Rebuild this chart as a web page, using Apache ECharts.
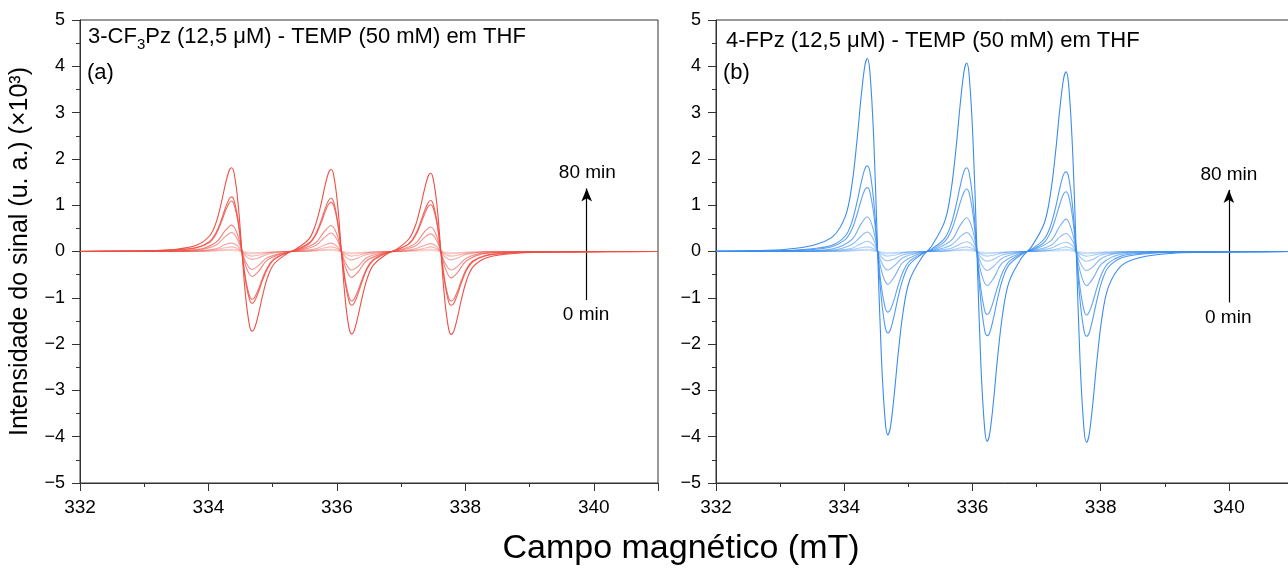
<!DOCTYPE html>
<html>
<head>
<meta charset="utf-8">
<script src="https://cdn.jsdelivr.net/npm/echarts@6/dist/echarts.min.js"></script>
<style>html,body{margin:0;padding:0;background:#fff;overflow:hidden;width:1288px;height:571px}#c{width:1296px;height:571px}</style>
</head>
<body>
<div id="c"></div>
<script>
// ---------- DATA ----------
// magnetic field grids (mT)
const fieldFull = [332.0, 332.6, 333.1, 333.5, 333.82,
  334.02, 334.12, 334.20, 334.26, 334.32, 334.36, 334.40, 334.46, 334.52, 334.58, 334.64, 334.68, 334.72, 334.78, 334.84, 334.92, 335.02,
  335.22,
  335.37, 335.57, 335.67, 335.75, 335.81, 335.87, 335.91, 335.95, 336.01, 336.07, 336.13, 336.19, 336.23, 336.27, 336.33, 336.39, 336.47, 336.57, 336.77,
  336.92, 337.12, 337.22, 337.30, 337.36, 337.42, 337.46, 337.50, 337.56, 337.62, 337.68, 337.74, 337.78, 337.82, 337.88, 337.94, 338.02, 338.12, 338.32,
  338.62, 339.1, 339.6, 340.2, 341.0];
const fieldCoarse = [332.0, 333.3, 333.82, 334.12, 334.26, 334.36, 334.46, 334.58, 334.68, 334.78, 334.92, 335.22,
  335.37, 335.67, 335.81, 335.91, 336.01, 336.13, 336.23, 336.33, 336.47, 336.77,
  336.92, 337.22, 337.36, 337.46, 337.56, 337.68, 337.78, 337.88, 338.02, 338.32, 339.0, 341.0];

// Panel (a) 3-CF3Pz, signal intensity (x10^3)
const red80 = [0.005, 0.01, 0.02, 0.05, 0.14,
  0.34, 0.63, 1.05, 1.43, 1.74, 1.81, 1.69, 1.06, 0.02, -0.99, -1.60, -1.72, -1.65, -1.35, -0.97, -0.56, -0.27,
  -0.05,
  0.06, 0.28, 0.59, 1.00, 1.39, 1.70, 1.77, 1.65, 1.03, 0.00, -1.04, -1.66, -1.78, -1.71, -1.39, -1.01, -0.59, -0.29, -0.06,
  0.04, 0.27, 0.55, 0.95, 1.32, 1.62, 1.69, 1.57, 0.98, -0.02, -1.05, -1.67, -1.79, -1.72, -1.41, -1.03, -0.62, -0.33, -0.14,
  -0.06, -0.02, -0.01, -0.005, 0.00];
const red70 = [0.00, 0.01, 0.015, 0.04, 0.09,
  0.22, 0.41, 0.68, 0.93, 1.13, 1.18, 1.10, 0.69, 0.01, -0.65, -1.04, -1.12, -1.07, -0.87, -0.63, -0.37, -0.18,
  -0.03,
  0.04, 0.19, 0.38, 0.65, 0.90, 1.10, 1.15, 1.07, 0.67, 0.00, -0.68, -1.08, -1.16, -1.11, -0.91, -0.66, -0.38, -0.19, -0.04,
  0.03, 0.17, 0.36, 0.62, 0.86, 1.05, 1.10, 1.02, 0.63, -0.01, -0.68, -1.09, -1.16, -1.12, -0.92, -0.67, -0.40, -0.22, -0.09,
  -0.04, -0.01, -0.01, 0.00, 0.00];
const red60 = [0.00, 0.01, 0.01, 0.03, 0.08,
  0.20, 0.38, 0.63, 0.86, 1.04, 1.09, 1.01, 0.64, 0.01, -0.60, -0.96, -1.03, -0.99, -0.81, -0.58, -0.34, -0.16,
  -0.03,
  0.03, 0.17, 0.35, 0.60, 0.83, 1.02, 1.06, 0.99, 0.62, 0.00, -0.62, -0.99, -1.07, -1.02, -0.84, -0.61, -0.35, -0.17, -0.03,
  0.03, 0.16, 0.33, 0.57, 0.79, 0.97, 1.01, 0.94, 0.59, -0.01, -0.63, -1.00, -1.07, -1.03, -0.85, -0.62, -0.37, -0.20, -0.08,
  -0.03, -0.01, -0.01, 0.00, 0.00];
const red50 = [0.00, 0.01, 0.04, 0.20, 0.45, 0.57, 0.34, -0.31, -0.54, -0.43, -0.18, -0.01,
  0.02, 0.19, 0.44, 0.56, 0.33, -0.33, -0.56, -0.44, -0.19, -0.02,
  0.01, 0.17, 0.42, 0.53, 0.31, -0.33, -0.57, -0.45, -0.20, -0.04, -0.01, 0.00];
const red40 = [0.00, 0.01, 0.03, 0.14, 0.32, 0.41, 0.24, -0.22, -0.39, -0.30, -0.13, -0.01,
  0.01, 0.13, 0.31, 0.40, 0.23, -0.23, -0.40, -0.32, -0.13, -0.01,
  0.01, 0.12, 0.30, 0.38, 0.22, -0.24, -0.40, -0.32, -0.14, -0.03, -0.01, 0.00];
const red30 = [0.00, 0.00, 0.01, 0.06, 0.15, 0.18, 0.11, -0.10, -0.17, -0.14, -0.06, 0.00,
  0.01, 0.06, 0.14, 0.18, 0.10, -0.11, -0.18, -0.14, -0.06, -0.01,
  0.00, 0.06, 0.13, 0.17, 0.10, -0.11, -0.18, -0.14, -0.06, -0.01, 0.00, 0.00];
const red20 = [0.00, 0.00, 0.01, 0.04, 0.08, 0.10, 0.06, -0.06, -0.10, -0.08, -0.03, 0.00,
  0.00, 0.03, 0.08, 0.10, 0.06, -0.06, -0.10, -0.08, -0.03, 0.00,
  0.00, 0.03, 0.07, 0.10, 0.06, -0.06, -0.10, -0.08, -0.04, -0.01, 0.00, 0.00];
const red10 = [0, 0, 0, 0.02, 0.04, 0.05, 0.03, -0.03, -0.05, -0.04, -0.02, 0,
  0, 0.02, 0.04, 0.05, 0.03, -0.03, -0.05, -0.04, -0.02, 0,
  0, 0.02, 0.04, 0.05, 0.03, -0.03, -0.05, -0.04, -0.02, 0, 0, 0];
const red0 = [0, 0, 0, 0.01, 0.02, 0.02, 0.01, -0.01, -0.02, -0.02, -0.01, 0,
  0, 0.01, 0.02, 0.02, 0.01, -0.01, -0.02, -0.02, -0.01, 0,
  0, 0.01, 0.01, 0.02, 0.01, -0.01, -0.02, -0.02, -0.01, 0, 0, 0];

// Panel (b) 4-FPz
const blue80 = [0.01, 0.02, 0.05, 0.13, 0.32,
  0.77, 1.44, 2.41, 3.29, 4.00, 4.17, 3.89, 2.45, 0.04, -2.29, -3.68, -3.96, -3.80, -3.09, -2.23, -1.29, -0.62,
  -0.11,
  0.13, 0.66, 1.35, 2.31, 3.19, 3.90, 4.07, 3.79, 2.37, 0.00, -2.39, -3.82, -4.10, -3.93, -3.21, -2.32, -1.36, -0.66, -0.13,
  0.10, 0.61, 1.27, 2.19, 3.04, 3.72, 3.88, 3.61, 2.25, -0.04, -2.42, -3.84, -4.12, -3.96, -3.25, -2.38, -1.43, -0.77, -0.31,
  -0.13, -0.04, -0.02, -0.01, 0.00];
const blue70 = [0.01, 0.01, 0.02, 0.06, 0.14,
  0.34, 0.64, 1.07, 1.46, 1.78, 1.85, 1.73, 1.09, 0.02, -1.02, -1.64, -1.76, -1.69, -1.38, -0.99, -0.58, -0.28,
  -0.05,
  0.06, 0.29, 0.60, 1.03, 1.42, 1.74, 1.81, 1.69, 1.06, 0.00, -1.06, -1.70, -1.82, -1.75, -1.43, -1.03, -0.60, -0.29, -0.06,
  0.05, 0.27, 0.56, 0.97, 1.35, 1.66, 1.72, 1.61, 1.00, -0.02, -1.08, -1.71, -1.83, -1.76, -1.44, -1.06, -0.64, -0.34, -0.14,
  -0.06, -0.02, -0.01, -0.01, 0.00];
const blue60 = [0.00, 0.01, 0.02, 0.04, 0.11,
  0.26, 0.48, 0.80, 1.09, 1.33, 1.38, 1.29, 0.81, 0.01, -0.76, -1.22, -1.31, -1.26, -1.03, -0.74, -0.43, -0.21,
  -0.04,
  0.04, 0.22, 0.45, 0.77, 1.06, 1.29, 1.35, 1.26, 0.79, 0.00, -0.79, -1.27, -1.36, -1.30, -1.06, -0.77, -0.45, -0.22, -0.04,
  0.03, 0.20, 0.42, 0.73, 1.01, 1.24, 1.29, 1.20, 0.75, -0.01, -0.80, -1.27, -1.37, -1.31, -1.08, -0.79, -0.47, -0.25, -0.10,
  -0.04, -0.01, -0.01, 0.00, 0.00];
const blue50 = [0.00, 0.01, 0.06, 0.26, 0.59, 0.75, 0.44, -0.41, -0.71, -0.55, -0.23, -0.02,
  0.02, 0.24, 0.57, 0.73, 0.43, -0.43, -0.74, -0.58, -0.24, -0.02,
  0.02, 0.23, 0.54, 0.70, 0.40, -0.43, -0.74, -0.58, -0.26, -0.06, -0.01, 0.00];
const blue40 = [0.00, 0.01, 0.03, 0.15, 0.33, 0.42, 0.25, -0.23, -0.40, -0.31, -0.13, -0.01,
  0.01, 0.14, 0.32, 0.41, 0.24, -0.24, -0.41, -0.32, -0.14, -0.01,
  0.01, 0.13, 0.31, 0.39, 0.23, -0.24, -0.41, -0.33, -0.14, -0.03, -0.01, 0.00];
const blue30 = [0.00, 0.00, 0.02, 0.07, 0.17, 0.22, 0.13, -0.12, -0.20, -0.16, -0.07, -0.01,
  0.01, 0.07, 0.16, 0.21, 0.12, -0.12, -0.21, -0.17, -0.07, -0.01,
  0.01, 0.07, 0.16, 0.20, 0.12, -0.12, -0.21, -0.17, -0.07, -0.02, 0.00, 0.00];
const blue20 = [0.00, 0.00, 0.01, 0.04, 0.08, 0.10, 0.06, -0.06, -0.10, -0.08, -0.03, 0.00,
  0.00, 0.03, 0.08, 0.10, 0.06, -0.06, -0.10, -0.08, -0.03, 0.00,
  0.00, 0.03, 0.07, 0.10, 0.06, -0.06, -0.10, -0.08, -0.04, -0.01, 0.00, 0.00];
const blue10 = [0, 0, 0, 0.02, 0.04, 0.05, 0.03, -0.03, -0.05, -0.04, -0.02, 0,
  0, 0.02, 0.04, 0.05, 0.03, -0.03, -0.05, -0.04, -0.02, 0,
  0, 0.02, 0.04, 0.05, 0.03, -0.03, -0.05, -0.04, -0.02, 0, 0, 0];
const blue0 = [0, 0, 0, 0.01, 0.02, 0.02, 0.01, -0.01, -0.02, -0.02, -0.01, 0,
  0, 0.01, 0.02, 0.02, 0.01, -0.01, -0.02, -0.02, -0.01, 0,
  0, 0.01, 0.01, 0.02, 0.01, -0.01, -0.02, -0.02, -0.01, 0, 0, 0];

// axis ticks
const xMin = 332, xMax = 341, xStep = 2;
const yMin = -5, yMax = 5, yStep = 1;

// annotations: [field, intensity]
const arrowA = [[339.89, -1.05], [339.89, 1.36]];
const arrowB = [[340.0, -1.10], [340.0, 1.33]];
const labelsA = [[339.9, 1.71, '80 min'], [339.88, -1.37, '0 min']];
const labelsB = [[340.0, 1.65, '80 min'], [339.99, -1.43, '0 min']];

// ---------- CHART ----------
const FONT = '"Liberation Sans", Arial, sans-serif';
const redSet = [
  {x: fieldCoarse, y: red0}, {x: fieldCoarse, y: red10}, {x: fieldCoarse, y: red20},
  {x: fieldCoarse, y: red30}, {x: fieldCoarse, y: red40}, {x: fieldCoarse, y: red50},
  {x: fieldFull, y: red60}, {x: fieldFull, y: red70}, {x: fieldFull, y: red80}];
const blueSet = [
  {x: fieldCoarse, y: blue0}, {x: fieldCoarse, y: blue10}, {x: fieldCoarse, y: blue20},
  {x: fieldCoarse, y: blue30}, {x: fieldCoarse, y: blue40}, {x: fieldCoarse, y: blue50},
  {x: fieldFull, y: blue60}, {x: fieldFull, y: blue70}, {x: fieldFull, y: blue80}];
const alphas = [0.28, 0.33, 0.4, 0.5, 0.6, 0.7, 0.8, 0.88, 1.0];

function lineSeries(set, gi, rgb) {
  return set.map((s, i) => ({
    type: 'line', xAxisIndex: gi, yAxisIndex: gi,
    data: s.x.map((v, k) => [v, s.y[k]]),
    showSymbol: false, smooth: 0.35,
    lineStyle: {color: 'rgba(' + rgb + ',' + alphas[i] + ')', width: 1.1},
    silent: true, z: 2 + i
  }));
}
function annot(gi, arrow, labels) {
  return {
    type: 'scatter', xAxisIndex: gi, yAxisIndex: gi, symbolSize: 0, silent: true, z: 20,
    data: labels,
    itemStyle: {color: '#000', opacity: 1},
    label: {show: true, position: 'inside', formatter: p => p.data[2], fontSize: 19, color: '#000', opacity: 1,
      fontFamily: FONT, textBorderWidth: 0, textBorderColor: 'transparent'},
    markLine: {
      silent: true, symbol: ['none', 'arrow'], symbolSize: [8, 13],
      lineStyle: {color: '#000', width: 1.2, type: 'solid', opacity: 1},
      label: {show: false},
      data: [[{coord: arrow[0]}, {coord: arrow[1]}]]
    }
  };
}
const axisCol = '#333';
function mkX(gi) {
  return {
    type: 'value', gridIndex: gi, min: xMin, max: xMax, interval: xStep,
    axisLine: {show: true, onZero: false, lineStyle: {color: axisCol, width: 1}},
    axisTick: {show: true, length: 8, lineStyle: {color: axisCol}},
    minorTick: {show: true, splitNumber: 2, length: 4, lineStyle: {color: axisCol}},
    splitLine: {show: false}, minorSplitLine: {show: false},
    axisLabel: {fontSize: 19, color: '#000', margin: 15, fontFamily: FONT,
      formatter: v => (v > 340.5 ? '' : String(v))}
  };
}
function mkY(gi) {
  const o = {
    type: 'value', gridIndex: gi, min: yMin, max: yMax, interval: yStep,
    axisLine: {show: true, onZero: false, lineStyle: {color: axisCol, width: 1}},
    axisTick: {show: true, length: 8, lineStyle: {color: axisCol}},
    minorTick: {show: true, splitNumber: 2, length: 4, lineStyle: {color: axisCol}},
    splitLine: {show: false}, minorSplitLine: {show: false},
    axisLabel: {fontSize: 18, color: '#000', margin: 15, fontFamily: FONT,
      formatter: v => (v < 0 ? '\u2212' + (-v) : String(v))}
  };
  if (gi === 0) {
    o.name = 'Intensidade do sinal (u. a.) (\u00d710\u00b3)';
    o.nameLocation = 'middle';
    o.nameGap = 47;
    o.nameTextStyle = {fontSize: 25, color: '#000', fontFamily: FONT};
  }
  return o;
}

const chart = echarts.init(document.getElementById('c'), null, {renderer: 'canvas', width: 1296, height: 571});
chart.setOption({
  animation: false,
  backgroundColor: '#fff',
  grid: [
    {left: 80, top: 20, width: 578, height: 463, show: true, borderColor: axisCol, borderWidth: 1},
    {left: 716, top: 20, width: 578, height: 463, show: true, borderColor: axisCol, borderWidth: 1}
  ],
  xAxis: [mkX(0), mkX(1)],
  yAxis: [mkY(0), mkY(1)],
  series: [].concat(
    lineSeries(redSet, 0, '238,78,68'),
    lineSeries(blueSet, 1, '58,140,238'),
    [annot(0, arrowA, labelsA), annot(1, arrowB, labelsB)]
  ),
  graphic: [
    {type: 'text', x: 88, y: 22, z: 50, style: {
      text: '3-CF{s|3}Pz (12,5 \u03bcM) - TEMP (50 mM) em THF',
      fontSize: 22, fontFamily: FONT, fill: '#000', lineHeight: 30, verticalAlign: 'top', align: 'left',
      rich: {s: {fontSize: 15, lineHeight: 14, verticalAlign: 'bottom', fontFamily: FONT, fill: '#000'}}
    }},
    {type: 'text', x: 87, y: 73, z: 50, style: {text: '(a)', fontSize: 22, fontFamily: FONT, fill: '#000', verticalAlign: 'middle'}},
    {type: 'text', x: 726, y: 41, z: 50, style: {text: '4-FPz (12,5 \u03bcM) - TEMP (50 mM) em THF', fontSize: 22, fontFamily: FONT, fill: '#000', verticalAlign: 'middle'}},
    {type: 'text', x: 723, y: 73, z: 50, style: {text: '(b)', fontSize: 22, fontFamily: FONT, fill: '#000', verticalAlign: 'middle'}},
    {type: 'text', x: 681, y: 549, z: 50, style: {text: 'Campo magn\u00e9tico (mT)', fontSize: 34, fontFamily: FONT, fill: '#000', align: 'center', verticalAlign: 'middle'}}
  ]
});
</script>
</body>
</html>
